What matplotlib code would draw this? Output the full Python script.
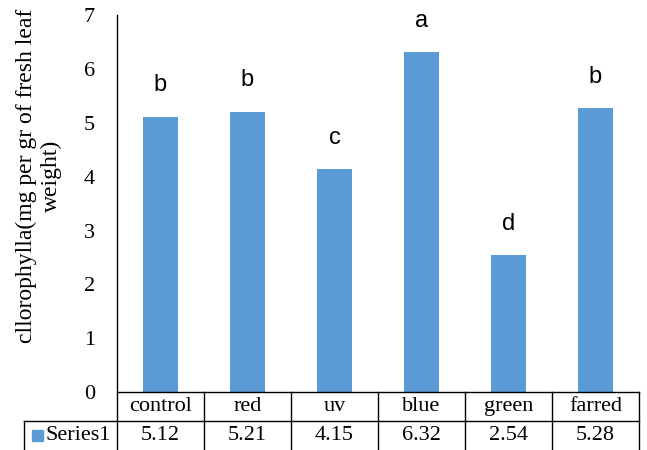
import numpy as np
import matplotlib
matplotlib.use("Agg")
import matplotlib.pyplot as plt
import matplotlib.transforms as mtransforms
from matplotlib.patches import Rectangle

categories = ['control', 'red', 'uv', 'blue', 'green', 'farred']
values = [5.12, 5.21, 4.15, 6.32, 2.54, 5.28]
letters = ['b', 'b', 'c', 'a', 'd', 'b']
series_name = 'Series1'

bar_color = '#5B9BD5'
serif = 'Liberation Serif'

fig = plt.figure(figsize=(6.47, 4.5), dpi=100)
ax = fig.add_axes([0.1808, 0.1289, 0.8068, 0.8369])

x = np.arange(len(categories))
ax.bar(x, values, width=0.4, color=bar_color, zorder=2)
for xi, v, l in zip(x, values, letters):
    ax.text(xi, v + 0.58, l, ha='center', va='center', fontsize=17,
            family='Liberation Sans')

ax.set_xlim(-0.5, len(categories) - 0.5)
ax.set_ylim(0, 7)
ax.set_yticks(range(0, 8))
ax.set_xticks([])
ax.tick_params(axis='y', length=0, pad=16, labelsize=16)
for t in ax.get_yticklabels():
    t.set_family(serif)
for s in ['top', 'right', 'bottom', 'left']:
    ax.spines[s].set_visible(False)

fig.text(0.060, 0.61, 'cllorophylla(mg per gr of fresh leaf\nweight)',
         rotation=90, ha='center', va='center', fontsize=17, family=serif,
         linespacing=1.25, multialignment='center')

# data table below the plot (x in data units, y in axes units)
tr = mtransforms.blended_transform_factory(ax.transData, ax.transAxes)
row_h = 29 / 377.0
bottom = -row_h - 36 / 377.0
lw = 1.0
left_lbl = -0.5 - 93 / 87.0
n = len(categories)
# horizontal lines
ax.plot([-0.5, n - 0.5], [0, 0], transform=tr, color='black', lw=lw, clip_on=False)
ax.plot([left_lbl, n - 0.5], [-row_h, -row_h], transform=tr, color='black', lw=lw, clip_on=False)
# vertical lines
ax.plot([-0.5, -0.5], [1, bottom], transform=tr, color='black', lw=lw, clip_on=False)
for i in range(n):
    ax.plot([i + 0.5, i + 0.5], [0, bottom], transform=tr, color='black', lw=lw, clip_on=False)
ax.plot([left_lbl, left_lbl], [-row_h, bottom], transform=tr, color='black', lw=lw, clip_on=False)

for xi, c, v in zip(x, categories, values):
    ax.text(xi, -row_h / 2, c, transform=tr, ha='center', va='center',
            fontsize=16, family=serif)
    ax.text(xi, -1.5 * row_h, '%.2f' % v, transform=tr, ha='center', va='center',
            fontsize=16, family=serif)

sq_w = 11 / 87.0
sq_h = 11 / 377.0
ax.add_patch(Rectangle((left_lbl + 8 / 87.0, -1.5 * row_h - sq_h / 2), sq_w, sq_h,
                       transform=tr, color=bar_color, clip_on=False))
ax.text(left_lbl + 22 / 87.0, -1.5 * row_h, series_name, transform=tr,
        ha='left', va='center', fontsize=16, family=serif)

fig.savefig('out.png', dpi=100)
